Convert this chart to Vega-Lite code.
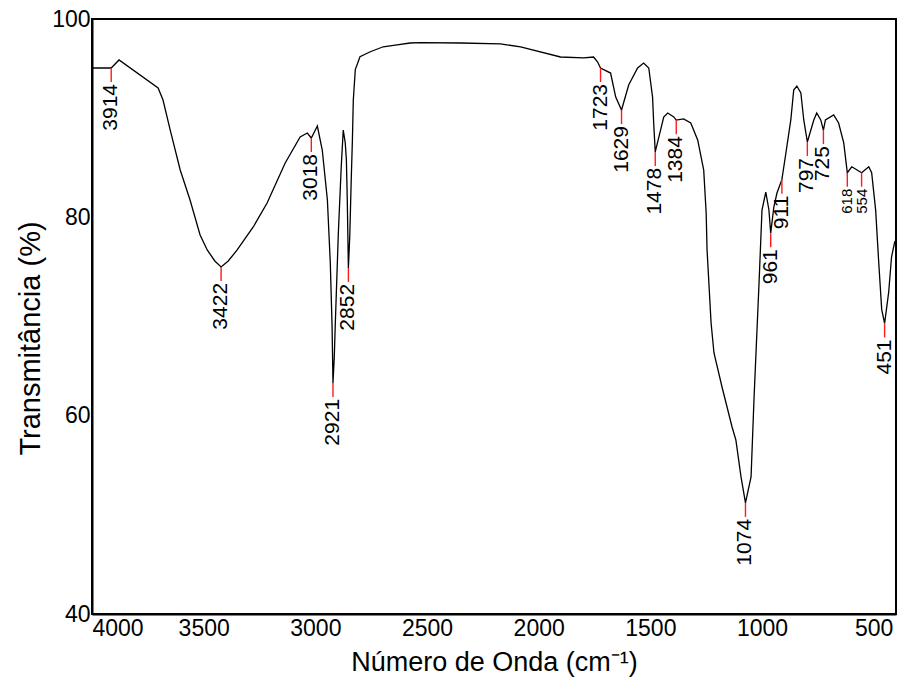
{
  "$schema": "https://vega.github.io/schema/vega-lite/v6.json",
  "width": 804,
  "height": 595,
  "autosize": {"type": "none"},
  "padding": {"left": 92, "top": 19, "right": 1, "bottom": 77},
  "background": "white",
  "config": {
    "view": {"stroke": "black", "strokeWidth": 2},
    "font": "Liberation Sans",
    "axis": {"labelFont": "Liberation Sans", "titleFont": "Liberation Sans", "labelColor": "black", "titleColor": "black"}
  },
  "datasets": {
    "spectrum": [
      {"wn": 4000, "T": 95.06}, {"wn": 3914, "T": 95.06}, {"wn": 3879, "T": 95.87}, {"wn": 3704, "T": 93.04},
      {"wn": 3682, "T": 91.83}, {"wn": 3650, "T": 88.81}, {"wn": 3605, "T": 84.77}, {"wn": 3561, "T": 81.75},
      {"wn": 3516, "T": 78.22}, {"wn": 3484, "T": 76.71}, {"wn": 3450, "T": 75.6}, {"wn": 3422, "T": 75.0},
      {"wn": 3390, "T": 75.6}, {"wn": 3350, "T": 76.71}, {"wn": 3278, "T": 79.03}, {"wn": 3216, "T": 81.45},
      {"wn": 3135, "T": 85.48}, {"wn": 3068, "T": 88.1}, {"wn": 3036, "T": 88.5}, {"wn": 3018, "T": 88.0},
      {"wn": 2991, "T": 89.21}, {"wn": 2969, "T": 86.79}, {"wn": 2946, "T": 81.75}, {"wn": 2933, "T": 75.4},
      {"wn": 2925, "T": 69.0}, {"wn": 2921, "T": 63.3}, {"wn": 2915, "T": 66.0}, {"wn": 2911, "T": 69.0},
      {"wn": 2897, "T": 78.4}, {"wn": 2884, "T": 85.1}, {"wn": 2875, "T": 88.8}, {"wn": 2866, "T": 87.5},
      {"wn": 2861, "T": 85.8}, {"wn": 2857, "T": 81.75}, {"wn": 2852, "T": 74.9}, {"wn": 2846, "T": 78.0},
      {"wn": 2839, "T": 84.0}, {"wn": 2834, "T": 87.8}, {"wn": 2830, "T": 91.8}, {"wn": 2821, "T": 94.9},
      {"wn": 2800, "T": 96.2}, {"wn": 2754, "T": 96.7}, {"wn": 2696, "T": 97.2}, {"wn": 2634, "T": 97.4},
      {"wn": 2576, "T": 97.58}, {"wn": 2530, "T": 97.62}, {"wn": 2350, "T": 97.58},
      {"wn": 2171, "T": 97.5}, {"wn": 2081, "T": 97.18}, {"wn": 1902, "T": 96.17}, {"wn": 1799, "T": 96.07},
      {"wn": 1754, "T": 96.17}, {"wn": 1736, "T": 95.66}, {"wn": 1723, "T": 95.06}, {"wn": 1678, "T": 94.55},
      {"wn": 1655, "T": 92.13}, {"wn": 1629, "T": 90.82}, {"wn": 1597, "T": 93.34}, {"wn": 1557, "T": 95.06},
      {"wn": 1530, "T": 95.56}, {"wn": 1507, "T": 95.06}, {"wn": 1490, "T": 92.13}, {"wn": 1485, "T": 89.51},
      {"wn": 1478, "T": 86.6}, {"wn": 1454, "T": 88.81}, {"wn": 1440, "T": 90.12}, {"wn": 1422, "T": 90.52},
      {"wn": 1395, "T": 90.12}, {"wn": 1384, "T": 89.8}, {"wn": 1351, "T": 89.92}, {"wn": 1319, "T": 89.51},
      {"wn": 1288, "T": 87.8}, {"wn": 1261, "T": 84.77}, {"wn": 1250, "T": 80.44}, {"wn": 1246, "T": 76.71},
      {"wn": 1228, "T": 69.35}, {"wn": 1215, "T": 66.32}, {"wn": 1179, "T": 62.89}, {"wn": 1134, "T": 58.86},
      {"wn": 1117, "T": 57.55}, {"wn": 1094, "T": 53.82}, {"wn": 1074, "T": 51.2}, {"wn": 1049, "T": 53.82},
      {"wn": 1036, "T": 61.58}, {"wn": 1023, "T": 68.34}, {"wn": 1014, "T": 72.98}, {"wn": 1000, "T": 80.74},
      {"wn": 983, "T": 82.55}, {"wn": 969, "T": 80.74}, {"wn": 961, "T": 78.4}, {"wn": 947, "T": 81.04},
      {"wn": 933, "T": 82.45}, {"wn": 911, "T": 83.8}, {"wn": 893, "T": 86.49}, {"wn": 871, "T": 89.82},
      {"wn": 858, "T": 92.84}, {"wn": 844, "T": 93.24}, {"wn": 826, "T": 92.54}, {"wn": 813, "T": 89.82},
      {"wn": 797, "T": 87.6}, {"wn": 768, "T": 89.82}, {"wn": 755, "T": 90.52}, {"wn": 737, "T": 89.82},
      {"wn": 725, "T": 88.8}, {"wn": 716, "T": 89.82}, {"wn": 679, "T": 90.32}, {"wn": 657, "T": 89.51},
      {"wn": 634, "T": 87.5}, {"wn": 618, "T": 84.5}, {"wn": 598, "T": 85.1}, {"wn": 576, "T": 84.8},
      {"wn": 554, "T": 84.5}, {"wn": 522, "T": 85.1}, {"wn": 509, "T": 84.5}, {"wn": 491, "T": 80.7},
      {"wn": 478, "T": 75.7}, {"wn": 464, "T": 70.7}, {"wn": 451, "T": 69.3}, {"wn": 433, "T": 72.4},
      {"wn": 420, "T": 76.0}, {"wn": 406, "T": 77.5}, {"wn": 400, "T": 77.7}
    ],
    "peaks": [
      {"wn": 3914, "T": 95.06}, {"wn": 3422, "T": 75.0}, {"wn": 3018, "T": 88.0}, {"wn": 2921, "T": 63.3},
      {"wn": 2852, "T": 74.9}, {"wn": 1723, "T": 95.06}, {"wn": 1629, "T": 90.82}, {"wn": 1478, "T": 86.6},
      {"wn": 1384, "T": 89.8}, {"wn": 1074, "T": 51.2}, {"wn": 961, "T": 78.4}, {"wn": 911, "T": 83.8},
      {"wn": 797, "T": 87.6}, {"wn": 725, "T": 88.8}, {"wn": 618, "T": 84.5}, {"wn": 554, "T": 84.5},
      {"wn": 451, "T": 69.3}
    ]
  },
  "encoding": {
    "x": {
      "field": "wn", "type": "quantitative",
      "scale": {"domain": [400, 4000], "reverse": true, "nice": false, "zero": false},
      "axis": {
        "values": [4000, 3500, 3000, 2500, 2000, 1500, 1000, 500],
        "format": "d", "grid": false, "ticks": false,
        "domainColor": "black", "domainWidth": 2,
        "labelFontSize": 23, "labelPadding": 3,
        "title": "Número de Onda (cm⁻¹)", "titleFontSize": 27, "titleFontWeight": "normal", "titlePadding": 9
      }
    },
    "y": {
      "field": "T", "type": "quantitative",
      "scale": {"domain": [40, 100], "nice": false, "zero": false},
      "axis": {
        "values": [40, 60, 80, 100],
        "grid": false, "ticks": false,
        "domainColor": "black", "domainWidth": 2,
        "labelFontSize": 23, "labelPadding": 2,
        "title": "Transmitância (%)", "titleFontSize": 29, "titleFontWeight": "normal", "titlePadding": 6,
        "titleY": 319
      }
    }
  },
  "layer": [
    {
      "data": {"name": "spectrum"},
      "mark": {"type": "line", "color": "black", "strokeWidth": 1.3, "clip": true}
    },
    {
      "data": {"name": "peaks"},
      "mark": {"type": "rule", "color": "#ff1a1a", "strokeWidth": 1.4, "y2Offset": 14},
      "encoding": {"y2": {"field": "T"}}
    },
    {
      "data": {"name": "peaks"},
      "mark": {"type": "text", "angle": 270, "align": "right", "baseline": "middle", "yOffset": 16, "color": "black", "font": "Liberation Sans"},
      "encoding": {
        "text": {"field": "wn", "type": "quantitative", "format": "d"},
        "size": {"condition": {"test": "datum.wn == 618 || datum.wn == 554", "value": 15}, "value": 21}
      }
    }
  ]
}
